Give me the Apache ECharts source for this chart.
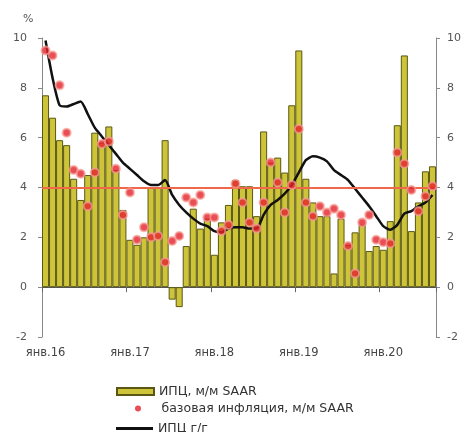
<!DOCTYPE html>
<html>
<head>
<meta charset="utf-8">
<script src="https://cdn.jsdelivr.net/npm/echarts@6/dist/echarts.min.js"></script>
<style>
html,body{margin:0;padding:0;background:#fff;}
#c{width:464px;height:432px;}
</style>
</head>
<body>
<div id="c"></div>
<script>
const months = [
 'янв.16','фев.16','мар.16','апр.16','май.16','июн.16','июл.16','авг.16','сен.16','окт.16','ноя.16','дек.16',
 'янв.17','фев.17','мар.17','апр.17','май.17','июн.17','июл.17','авг.17','сен.17','окт.17','ноя.17','дек.17',
 'янв.18','фев.18','мар.18','апр.18','май.18','июн.18','июл.18','авг.18','сен.18','окт.18','ноя.18','дек.18',
 'янв.19','фев.19','мар.19','апр.19','май.19','июн.19','июл.19','авг.19','сен.19','окт.19','ноя.19','дек.19',
 'янв.20','фев.20','мар.20','апр.20','май.20','июн.20','июл.20','авг.20'
];
const cpiMoM = [
 7.7,6.8,5.9,5.7,4.35,3.5,4.5,6.2,5.8,6.45,4.7,3.1,
 1.9,1.7,2.0,4.0,4.0,5.9,-0.5,-0.8,1.65,3.15,2.35,2.75,
 1.3,2.6,3.3,4.3,4.05,4.05,2.85,6.25,5.0,5.2,4.6,7.3,
 9.5,4.35,3.4,2.85,2.85,0.55,2.75,1.7,2.2,2.5,1.45,1.65,
 1.5,2.65,6.5,9.3,2.25,3.4,4.65,4.85
];
const coreMoM = [
 9.5,9.3,8.1,6.2,4.7,4.55,3.25,4.6,5.75,5.85,4.75,2.9,
 3.8,1.9,2.4,2.0,2.05,1.0,1.85,2.05,3.6,3.4,3.7,2.8,
 2.8,2.25,2.5,4.15,3.4,2.6,2.35,3.4,5.0,4.2,3.0,4.1,
 6.35,3.4,2.85,3.25,3.0,3.15,2.9,1.65,0.55,2.6,2.9,1.9,
 1.8,1.75,5.4,4.95,3.9,3.05,3.65,4.05
];
const cpiYoY = [
 9.9,8.4,7.3,7.25,7.35,7.45,6.95,6.4,6.05,5.7,5.35,5.0,
 4.75,4.5,4.25,4.1,4.1,4.3,3.7,3.3,3.0,2.75,2.55,2.45,
 2.25,2.2,2.35,2.4,2.4,2.35,2.35,2.9,3.3,3.5,3.75,4.1,
 4.6,5.1,5.25,5.2,5.05,4.7,4.5,4.3,3.95,3.6,3.25,2.85,
 2.45,2.3,2.5,2.95,3.05,3.25,3.4,3.7
];
const target = 4;
const names = ['ИПЦ, м/м SAAR','базовая инфляция, м/м SAAR','ИПЦ г/г'];

const FONT = 'DejaVu Sans';
const chart = echarts.init(document.getElementById('c'), null, {renderer:'canvas'});
const yAxisCommon = {
  type:'value', min:-2, max:10, interval:2,
  axisLine:{show:true, lineStyle:{color:'#888', width:1}},
  axisTick:{show:true, inside:false, length:4, lineStyle:{color:'#888'}},
  splitLine:{show:false},
  axisLabel:{fontFamily:FONT, fontSize:11, color:'#555'}
};
const legendCommon = {
  orient:'horizontal', itemWidth:37, itemHeight:7,
  textStyle:{fontFamily:FONT, fontSize:12.5, color:'#333'}
};
chart.setOption({
  backgroundColor:'#fff',
  animation:false,
  title:{text:'%', left:18, top:9, textStyle:{fontFamily:FONT, fontSize:11, fontWeight:'normal', color:'#555'}},
  grid:{left:42, right:28, top:38, bottom:95, containLabel:false},
  legend:[
    Object.assign({}, legendCommon, {left:111, top:380, data:[{name:names[0], icon:'rect'}]}),
    Object.assign({}, legendCommon, {left:130, top:397, itemHeight:6, data:[{name:names[1], icon:'circle', itemStyle:{borderWidth:0}}]}),
    Object.assign({}, legendCommon, {left:111, top:417, itemHeight:3, data:[{name:names[2], icon:'rect'}]})
  ],
  xAxis:{
    type:'category', data:months, boundaryGap:true,
    axisLine:{show:true, onZero:true, lineStyle:{color:'#555', width:1}},
    axisTick:{show:true, interval:11, length:5, lineStyle:{color:'#666'}},
    axisLabel:{interval:11, margin:10, fontFamily:FONT, fontSize:11.5, color:'#444'},
    splitLine:{show:false}
  },
  yAxis:[
    Object.assign({position:'left'}, yAxisCommon, {axisLabel:Object.assign({}, yAxisCommon.axisLabel, {margin:15})}),
    Object.assign({position:'right'}, yAxisCommon, {axisLabel:Object.assign({}, yAxisCommon.axisLabel, {margin:11})})
  ],
  series:[
    {
      name:names[0], type:'bar', data:cpiMoM, barCategoryGap:'0%', z:2,
      itemStyle:{color:'#cdc43a', borderColor:'#5a5714', borderWidth:1},
      markLine:{
        silent:true, symbol:'none', label:{show:false},
        lineStyle:{color:'#f0674a', width:2, type:'solid'},
        data:[{yAxis:target}]
      }
    },
    {
      name:names[2], type:'line', data:cpiYoY, symbol:'none', smooth:0.2, z:4,
      lineStyle:{color:'#111', width:2.5}, itemStyle:{color:'#111'}
    },
    {
      name:names[1], type:'scatter', data:coreMoM, symbolSize:8, z:5,
      itemStyle:{color:'#e3212a', borderColor:'rgba(247,160,150,0.9)', borderWidth:2}
    }
  ]
});
</script>
</body>
</html>
